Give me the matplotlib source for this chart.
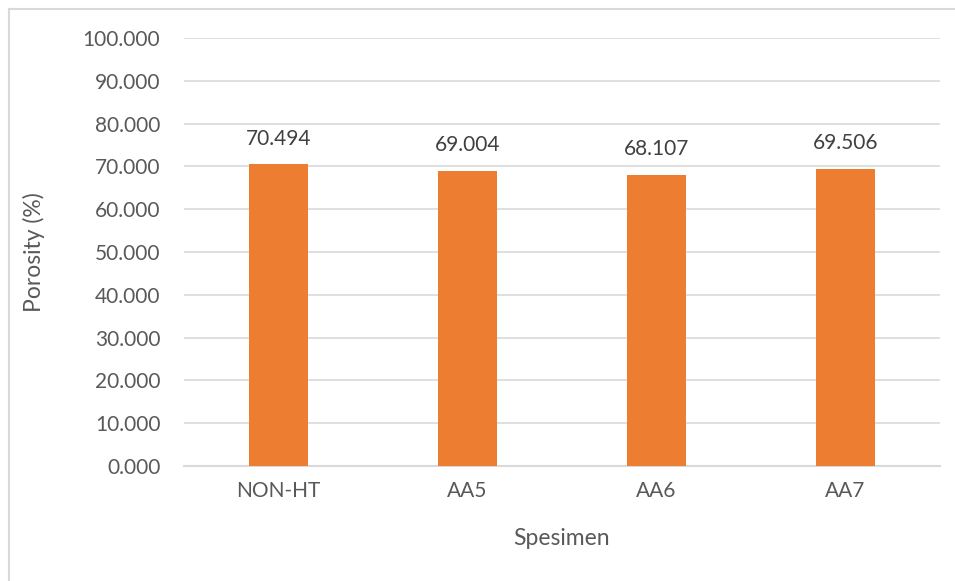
import matplotlib
matplotlib.use("Agg")
import matplotlib.pyplot as plt
from matplotlib.lines import Line2D

categories = ["NON-HT", "AA5", "AA6", "AA7"]
porosity = [70.494, 69.004, 68.107, 69.506]
yticks = [0, 10, 20, 30, 40, 50, 60, 70, 80, 90, 100]

plt.rcParams["font.family"] = ["Lato", "DejaVu Sans"]
text_color = "#595959"
grid_color = "#d9d9d9"
bar_color = "#ed7d31"

W, H = 955, 581
fig = plt.figure(figsize=(W / 100, H / 100), dpi=100)
ax = fig.add_axes([184 / W, 1 - 466 / H, (940 - 184) / W, (466 - 38) / H])

x = range(len(categories))
bars = ax.bar(x, porosity, width=0.315, color=bar_color, zorder=3)
ax.set_xlim(-0.5, len(categories) - 0.5)
ax.set_ylim(0, 100)
ax.set_yticks(yticks)
ax.set_yticklabels([f"{v:.3f}" for v in yticks])
ax.set_xticks(list(x))
ax.set_xticklabels(categories)

ax.grid(axis="y", color=grid_color, linewidth=1.2, zorder=0)
for s in ["top", "right", "left"]:
    ax.spines[s].set_visible(False)
ax.spines["bottom"].set_color(grid_color)
ax.spines["bottom"].set_linewidth(1.5)
ax.tick_params(axis="both", length=0, colors=text_color, labelsize=15)
ax.tick_params(axis="y", pad=17)
ax.tick_params(axis="x", pad=11)

for rect, v in zip(bars, porosity):
    ax.annotate(f"{v:.3f}", (rect.get_x() + rect.get_width() / 2, v),
                xytext=(0, 11), textcoords="offset points",
                ha="center", va="bottom", fontsize=15, color="#404040")

ax.set_ylabel("Porosity (%)", fontsize=16.5, color=text_color, labelpad=27)
ax.set_xlabel("Spesimen", fontsize=16.5, color=text_color, labelpad=19)

# chart frame
fig.add_artist(Line2D([9 / W, 9 / W], [0, 1 - 9 / H], color=grid_color, lw=1.5))
fig.add_artist(Line2D([9 / W, 1], [1 - 9 / H, 1 - 9 / H], color=grid_color, lw=1.5))

fig.savefig("out.png", dpi=100)
